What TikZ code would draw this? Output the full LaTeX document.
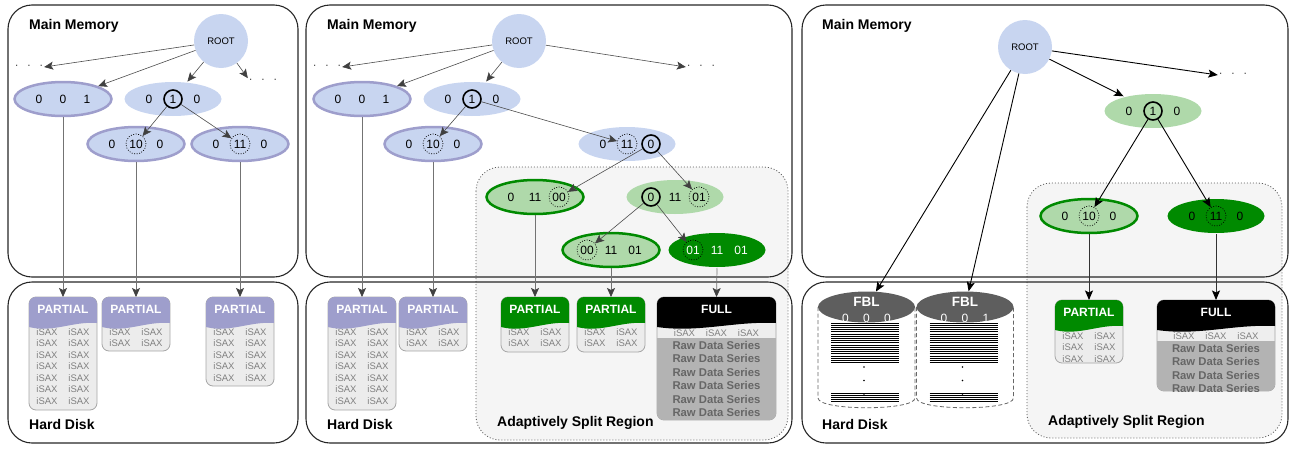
\documentclass[tikz,border=0pt]{standalone}
\usepackage{fontspec}
\setmainfont{Liberation Sans}
\usetikzlibrary{shapes.geometric,arrows.meta,calc}

% one iSAX word: ellipse with three symbols
\newcommand{\saxnode}[9]{%
  \node[#3] (#1) at #2 {};
  \node[dig,#5] (#1-l) at ($(#1)+(-24,0)$) {#4};
  \node[dig,#7] (#1-m) at (#1) {#6};
  \node[dig,#9] (#1-r) at ($(#1)+(24,0)$) {#8};}
% wavy header of a leaf file
\newcommand{\hdrwave}[2]{%
  \fill[#2] (#1.north west) -- (#1.north east) -- ($(#1.north east)+(0,26)$)
    .. controls ($(#1.north east)!0.35!(#1.north west)+(0,24)$)
    and ($(#1.north west)!0.35!(#1.north east)+(0,36)$) .. ($(#1.north west)+(0,30)$) -- cycle;}
\newcommand{\partbox}[4]{% box, colour, rows, first row
  \begin{scope}
    \clip[rounded corners=7pt] (#1.north west) rectangle (#1.south east);
    \foreach \i in {1,...,#3}
      \node[isax] (#1-\i-a) at ($(#1.north)+(-16,{#4+11.5*(\i-1)})$) {iSAX}
        node[isax] (#1-\i-b) at ($(#1.north)+(16,{#4+11.5*(\i-1)})$) {iSAX};
    \hdrwave{#1}{#2}
  \end{scope}
  \node[hdrtxt] (#1h) at ($(#1.north)+(0,12.5)$) {PARTIAL};}
\newcommand{\fullbox}[2]{% box, raw rows
  \begin{scope}
    \clip[rounded corners=7pt] (#1.north west) rectangle (#1.south east);
    \fill[kRaw] ($(#1.north west)+(0,41)$) rectangle (#1.south east);
    \foreach \i/\dx in {1/-32,2/0,3/32}
      \node[isax] (#1-\i) at ($(#1.north)+(\dx,36)$) {iSAX};
    \foreach \i in {1,...,#2}
      \node[rawtxt] (#1-r\i) at ($(#1.north)+(0,{48+13.5*(\i-1)})$) {Raw Data Series};
    \hdrwave{#1}{black}
  \end{scope}
  \node[hdrtxt] (#1h) at ($(#1.north)+(0,12.5)$) {FULL};}

\begin{document}
\begin{tikzpicture}[x=1pt,y=-1pt,
  panel/.style={draw=black!85,line width=1.1pt,rounded corners=24pt},
  region/.style={draw=black!65,fill=kRegion,line width=0.8pt,dash pattern=on 1pt off 2pt,rounded corners=24pt},
  lbl/.style={anchor=base west,inner sep=0pt,font=\fontsize{14}{16}\selectfont\bfseries},
  rootnode/.style={circle,fill=kBlue,minimum size=54pt,inner sep=0pt,font=\fontsize{9.5}{11}\selectfont},
  etc/.style={inner sep=1pt,font=\fontsize{10}{12}\selectfont},
  sax/.style={ellipse,minimum width=97pt,minimum height=34pt,inner sep=0pt,line width=2.5pt},
  blueleaf/.style={sax,fill=kBlue,draw=kPurple},
  bluein/.style={sax,fill=kBlue},
  greenleaf/.style={sax,fill=kLGreen,draw=kDGreen},
  greenin/.style={sax,fill=kLGreen},
  greenfull/.style={sax,fill=kDGreen},
  dig/.style={circle,inner sep=0pt,minimum size=19pt,font=\fontsize{12}{14}\selectfont},
  hit/.style={draw=black,line width=1.6pt,minimum size=18pt},
  cand/.style={draw=black,line width=0.7pt,dash pattern=on 0.9pt off 1.6pt,minimum size=20pt},
  wt/.style={text=white},
  arr/.style={draw=black!70,line width=0.6pt,-{Stealth[length=9pt,width=8pt,inset=2pt,black!75]}},
  arrk/.style={draw=black,line width=0.9pt,-{Stealth[length=9.5pt,width=8pt,inset=2pt]}},
  link/.style={draw=black!55,line width=0.7pt,-{Stealth[length=9pt,width=8pt,inset=2pt,black!75]}},
  linkk/.style={draw=black!80,line width=0.9pt,-{Stealth[length=9.5pt,width=8pt,inset=2pt,black]}},
  diskbody/.style={draw=black!35,fill=kBody,line width=0.8pt,rounded corners=7pt,anchor=north west,inner sep=0pt,outer sep=0pt,minimum width=68pt},
  hdrtxt/.style={inner sep=0pt,text=white,font=\fontsize{12}{14}\selectfont\bfseries},
  isax/.style={inner sep=0pt,text=kIsax,font=\fontsize{9.5}{11}\selectfont},
  rawtxt/.style={inner sep=0pt,text=kRawTxt,font=\fontsize{11.3}{13}\selectfont\bfseries},
  cyl/.style={draw=black!60,line width=0.8pt,dash pattern=on 4pt off 2.5pt,fill=white},
  stripe/.style={draw=black,line width=1pt},
  fbltop/.style={ellipse,fill=kFBL,minimum width=97pt,minimum height=31pt,inner sep=0pt},
  fbltxt/.style={inner sep=0pt,text=white,font=\fontsize{13.5}{15}\selectfont\bfseries},
  fbldig/.style={inner sep=0pt,text=white,font=\fontsize{12}{14}\selectfont}]
  % colors
  \definecolor{kBlue}{RGB}{200,213,240}
  \definecolor{kPurple}{RGB}{158,158,204}
  \definecolor{kLGreen}{RGB}{175,217,170}
  \definecolor{kDGreen}{RGB}{0,138,0}
  \definecolor{kRegion}{RGB}{245,245,245}
  \definecolor{kBody}{RGB}{236,236,236}
  \definecolor{kRaw}{RGB}{179,179,179}
  \definecolor{kIsax}{RGB}{128,128,128}
  \definecolor{kRawTxt}{RGB}{102,102,102}
  \definecolor{kFBL}{RGB}{94,94,94}
  \useasboundingbox (0,0) rectangle (1301,450);
  % split regions and memory / disk frames
  \draw[region] (476,167) rectangle (788,440);
  \draw[region] (1027,183) rectangle (1282,438);
  \foreach \x/\w in {8/298, 306/792, 802/1288} {
    \draw[panel] (\x,5) rectangle (\w,277);
    \draw[panel] (\x,282) rectangle (\w,443);
  }
  \foreach \n/\x in {1/29, 2/327, 3/822} {
    \node[lbl] (m\n) at (\x,29.5) {Main Memory};
    \node[lbl] (h\n) at (\x,429) {Hard Disk};
  }
  \node[lbl] (g2) at (497,426.5) {Adaptively Split Region};
  \node[lbl] (g3) at (1048,425) {Adaptively Split Region};

  % first index
  \node[rootnode] (r1) at (221,41) {ROOT};
  \node[etc] (d1l) at (29,67) {·\hspace{9pt}·\hspace{9pt}·};
  \node[etc] (d1r) at (263,81) {·\hspace{9pt}·\hspace{9pt}·};
  \saxnode{a001}{(63,99)}{blueleaf}{0}{}{0}{}{1}{}
  \saxnode{a010}{(173,99)}{bluein}{0}{}{1}{hit}{0}{}
  \saxnode{a0100}{(136,144)}{blueleaf}{0}{}{10}{cand}{0}{}
  \saxnode{a0110}{(240,144)}{blueleaf}{0}{}{11}{cand}{0}{}
  \draw[arr] (r1) -- (d1l.east);
  \draw[arr] (r1) -- (a001);
  \draw[arr] (r1) -- (a010);
  \draw[arr] (r1) -- (d1r.north west);
  \draw[arr] (a010-m) -- (a0100-m);
  \draw[arr] (a010-m) -- (a0110-m);
  \node[diskbody,minimum height=113pt] (p1) at (29,297) {};
  \node[diskbody,minimum height=54pt] (p2) at (102,297) {};
  \node[diskbody,minimum height=89pt] (p3) at (206,297) {};
  \partbox{p1}{kPurple}{7}{35}
  \partbox{p2}{kPurple}{2}{35}
  \partbox{p3}{kPurple}{5}{35}
  \draw[link] (a001.south) -- (p1.north);
  \draw[link] (a0100.south) -- (p2.north);
  \draw[link] (a0110.south) -- (p3.north);

  % second index
  \node[rootnode] (r2) at (519,41) {ROOT};
  \node[etc] (d2l) at (327,67) {·\hspace{9pt}·\hspace{9pt}·};
  \node[etc] (d2r) at (701,67) {·\hspace{9pt}·\hspace{9pt}·};
  \saxnode{b001}{(362,99)}{blueleaf}{0}{}{0}{}{1}{}
  \saxnode{b010}{(472,99)}{bluein}{0}{}{1}{hit}{0}{}
  \saxnode{b0100}{(433,144)}{blueleaf}{0}{}{10}{cand}{0}{}
  \saxnode{b0110}{(627,144)}{bluein}{0}{}{11}{cand}{0}{hit}
  \saxnode{b01100}{(535,197)}{greenleaf}{0}{}{11}{}{00}{cand}
  \saxnode{b01101}{(675,197)}{greenin}{0}{hit}{11}{}{01}{cand}
  \saxnode{b001101}{(611,250)}{greenleaf}{00}{cand}{11}{}{01}{}
  \saxnode{b011101}{(717,250)}{greenfull}{01}{cand,wt}{11}{wt}{01}{wt}
  \draw[arr] (r2) -- (d2l.east);
  \draw[arr] (r2) -- (b001);
  \draw[arr] (r2) -- (b010);
  \draw[arr] (r2) -- (d2r.west);
  \draw[arr] (b010-m) -- (b0100-m);
  \draw[arr] (b010-m) -- (b0110-m);
  \draw[arr] (b0110-r) -- (b01100-r);
  \draw[arr] (b0110-r) -- (b01101-r);
  \draw[arr] (b01101-l) -- (b001101-l);
  \draw[arr] (b01101-l) -- (b011101-l);
  \node[diskbody,minimum height=113pt] (q1) at (328,297) {};
  \node[diskbody,minimum height=54pt] (q2) at (399,297) {};
  \node[diskbody,minimum height=55pt] (q3) at (501,297) {};
  \node[diskbody,minimum height=55pt] (q4) at (577,297) {};
  \node[diskbody,minimum width=119pt,minimum height=123pt,fill=kBody!90!white] (q5) at (657,297) {};
  \partbox{q1}{kPurple}{7}{35}
  \partbox{q2}{kPurple}{2}{35}
  \partbox{q3}{kDGreen}{2}{35}
  \partbox{q4}{kDGreen}{2}{35}
  \fullbox{q5}{6}
  \draw[link] (b001.south) -- (q1.north);
  \draw[link] (b0100.south) -- (q2.north);
  \draw[link] (b01100.south) -- (q3.north);
  \draw[link] (b001101.south) -- (q4.north);
  \draw[link] (b011101.south) -- (q5.north);

  % third index
  \node[rootnode] (r3) at (1025,47) {ROOT};
  \node[etc] (d3r) at (1233,75) {·\hspace{9pt}·\hspace{9pt}·};
  \saxnode{c010}{(1153,111)}{greenin}{0}{}{1}{hit}{0}{}
  \saxnode{c0100}{(1089,216)}{greenleaf}{0}{}{10}{cand}{0}{}
  \saxnode{c0110}{(1216,216)}{greenfull}{0}{}{11}{cand}{0}{}
  \foreach \n/\x/\bit in {f1/866.5/0, f2/965/1} {
    \draw[cyl] (\x-48.5,307) -- (\x-48.5,398) .. controls (\x-48.5,411) and (\x+48.5,411) .. (\x+48.5,398) -- (\x+48.5,307);
    \foreach \y in {323,325.2,...,364.5}
      \draw[stripe] (\x-35.5,\y) -- (\x+32.5,\y);
    \foreach \y in {393,395.2,...,403.5}
      \draw[stripe] (\x-35.5,\y) -- (\x+32.5,\y);
    \foreach \y in {367,380.5,394}
      \fill (\x-2.5,\y) circle (0.9);
    \node[fbltop] (\n) at (\x,307) {};
    \node[fbltxt] (\n t) at (\x,302) {FBL};
    \node[fbldig] (\n a) at (\x-21,318) {0};
    \node[fbldig] (\n b) at (\x,318) {0};
    \node[fbldig] (\n c) at (\x+21,318) {\bit};
  }
  \draw[arrk] (r3) -- (d3r.west);
  \draw[arrk] (r3) -- (c010);
  \draw[arrk] (r3) -- (f1);
  \draw[arrk] (r3) -- (f2);
  \draw[arrk] (c010-m) -- (c0100-m);
  \draw[arrk] (c010-m) -- (c0110-m);
  \node[diskbody,minimum height=63pt] (s1) at (1055,300) {};
  \node[diskbody,minimum width=118pt,minimum height=91pt,fill=kBody!90!white] (s2) at (1157,300) {};
  \partbox{s1}{kDGreen}{3}{36}
  \fullbox{s2}{4}
  \draw[linkk] (c0100.south) -- (s1.north);
  \draw[linkk] (c0110.south) -- (s2.north);
\end{tikzpicture}
\end{document}
